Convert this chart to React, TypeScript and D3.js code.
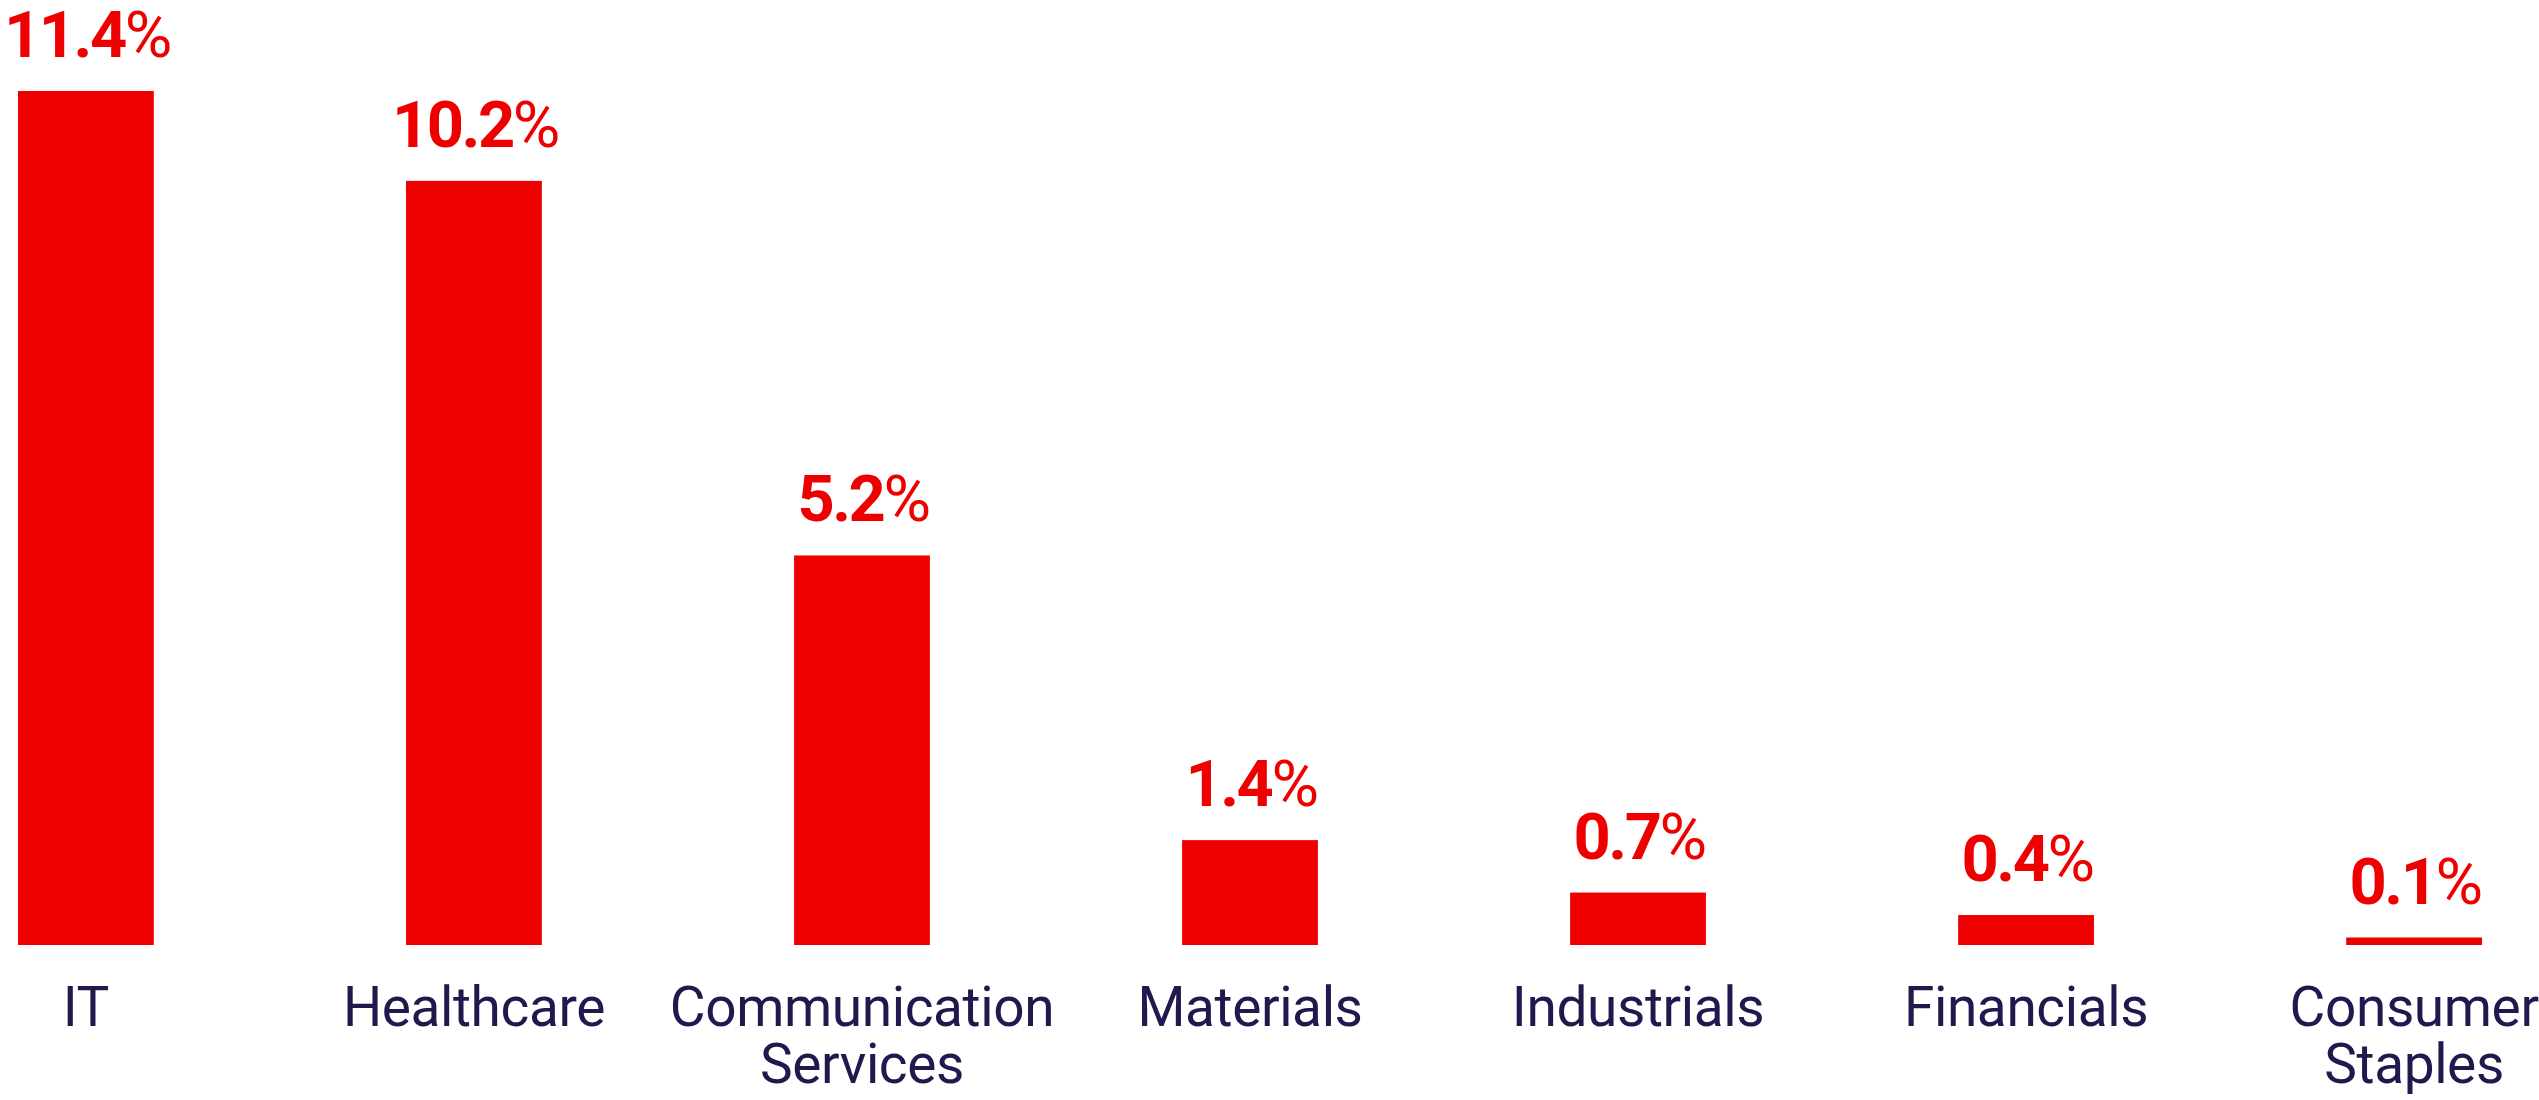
import * as d3 from 'd3';
import React, { useEffect, useRef } from 'react';

// Sector contributions
const categories = [
  'IT',
  'Healthcare',
  'Communication Services',
  'Materials',
  'Industrials',
  'Financials',
  'Consumer Staples',
];
const values = [11.4, 10.2, 5.2, 1.4, 0.7, 0.4, 0.1];
// Category tick labels, split into lines as shown
const tickLines = [
  ['IT'],
  ['Healthcare'],
  ['Communication', 'Services'],
  ['Materials'],
  ['Industrials'],
  ['Financials'],
  ['Consumer', 'Staples'],
];

const RED = '#EE0000';
const NAVY = '#1F1A4E';

const App: React.FC = () => {
  const svgRef = useRef<SVGSVGElement>(null);
  const width = 2539;
  const height = 1100;

  useEffect(() => {
    if (!svgRef.current) return;
    const svg = d3.select(svgRef.current);
    svg.selectAll('*').remove();

    const baseline = 945;
    const data = categories.map((c, i) => ({ cat: c, value: values[i], lines: tickLines[i] }));

    const x = d3.scaleBand<string>()
      .domain(categories)
      .range([18, 2482])
      .paddingInner(0.65)
      .paddingOuter(0);

    const y = d3.scaleLinear()
      .domain([0, 11.4])
      .range([baseline, 91]);

    // bars
    svg.selectAll('.bar')
      .data(data)
      .join('rect')
      .attr('class', 'bar')
      .attr('x', d => x(d.cat)!)
      .attr('y', d => y(d.value))
      .attr('width', x.bandwidth())
      .attr('height', d => baseline - y(d.value))
      .attr('fill', RED);

    // value labels: bold number, lighter percent sign
    const labels = svg.selectAll('.value')
      .data(data)
      .join('text')
      .attr('class', 'value')
      .attr('x', d => x(d.cat)! + x.bandwidth() / 2 + 1)
      .attr('y', d => y(d.value) - 34)
      .attr('text-anchor', 'middle')
      .style('font-family', 'Roboto, "Noto Sans", sans-serif')
      .style('font-size', '65px')
      .style('letter-spacing', '-2.5px')
      .attr('fill', RED);

    labels.append('tspan')
      .style('font-weight', 700)
      .text(d => d.value.toFixed(1));
    labels.append('tspan')
      .style('font-weight', 400)
      .text('%');

    // category labels
    const cats = svg.selectAll('.cat')
      .data(data)
      .join('text')
      .attr('class', 'cat')
      .attr('text-anchor', 'middle')
      .style('font-family', 'Roboto, "Noto Sans", sans-serif')
      .style('font-size', '55px')
      .style('letter-spacing', '-0.4px')
      .attr('fill', NAVY);

    cats.selectAll('tspan')
      .data(d => d.lines.map(l => ({ l, cx: x(d.cat)! + x.bandwidth() / 2 })))
      .join('tspan')
      .attr('x', d => d.cx)
      .attr('y', (_d, i) => 1026 + i * 57)
      .text(d => d.l);
  }, []);

  return (
    <svg
      ref={svgRef}
      width={width}
      height={height}
      style={{ position: 'absolute', left: 0, top: 0, background: '#fff' }}
    />
  );
};

export default App;
